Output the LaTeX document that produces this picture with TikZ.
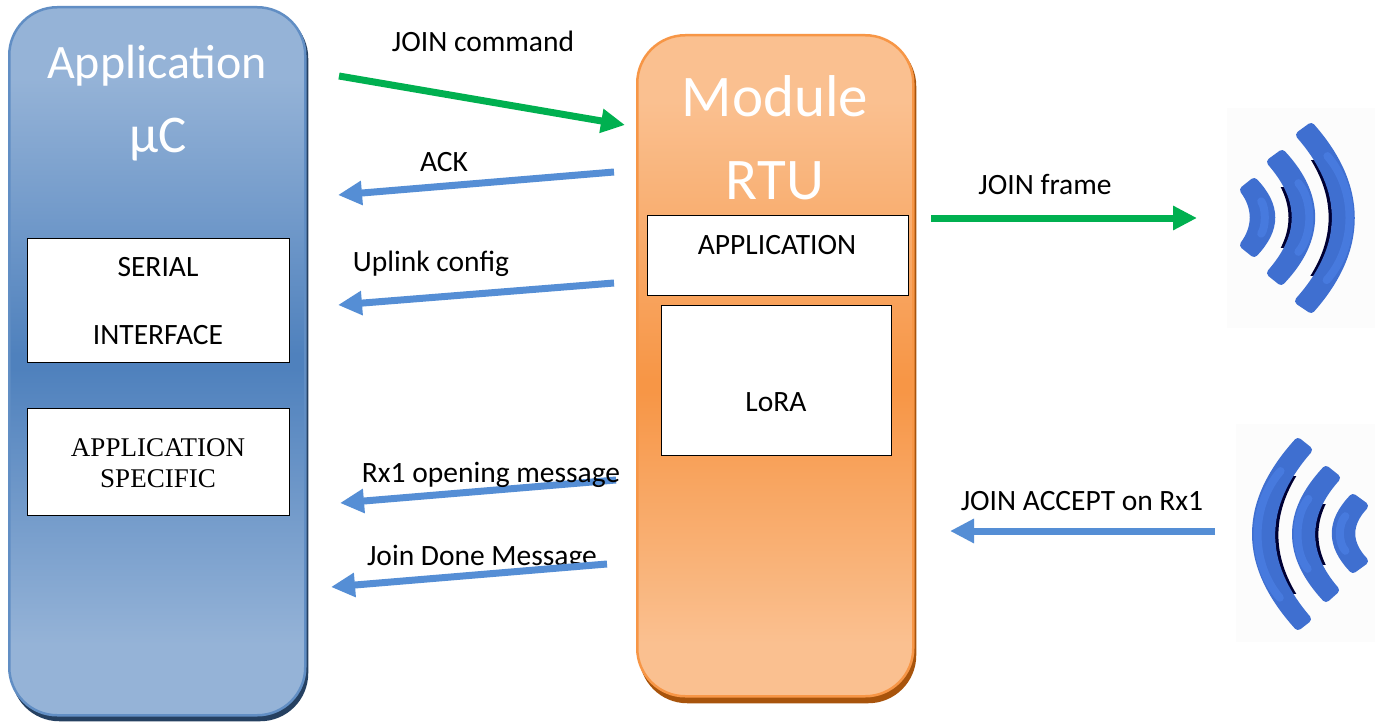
\documentclass[tikz,border=0pt]{standalone}
\usepackage{fontspec}
\setmainfont{Carlito}
\newfontfamily\timesf{Liberation Serif}
\usetikzlibrary{arrows.meta,positioning,calc}
\definecolor{blueA}{HTML}{95B3D7}
\definecolor{blueM}{HTML}{4F81BD}
\definecolor{blueS}{HTML}{254061}
\definecolor{orA}{HTML}{FAC090}
\definecolor{orM}{HTML}{F79646}
\definecolor{orS}{HTML}{A8540C}
\definecolor{arrowblue}{HTML}{558ED5}
\definecolor{arrowgreen}{HTML}{00B050}
\definecolor{icon}{HTML}{3F6FD0}
\definecolor{iconlight}{HTML}{5288F0}
\pgfdeclareverticalshading{blueshade}{100bp}{color(0bp)=(blueA); color(30bp)=(blueA); color(49.5bp)=(blueM); color(50.5bp)=(blueM); color(70bp)=(blueA); color(100bp)=(blueA)}
\pgfdeclareverticalshading{orshade}{100bp}{color(0bp)=(orA); color(29bp)=(orA); color(48bp)=(orM); color(49bp)=(orM); color(70bp)=(orA); color(100bp)=(orA)}
\tikzset{
  x=1pt,y=-1pt,
  panel/.style={rectangle,rounded corners=48pt,inner sep=0pt,line width=2.5pt,anchor=north west},
  whitebox/.style={rectangle,draw=black,line width=1.4pt,fill=white,inner sep=0pt,anchor=north west},
  lbl/.style={font=\fontsize{29.5}{33}\selectfont,text=black,inner sep=0pt,anchor=base},
  big/.style={font=\fontsize{48}{54}\selectfont,text=white,inner sep=0pt,anchor=base},
  bigger/.style={font=\fontsize{59}{64}\selectfont,text=white,inner sep=0pt,anchor=base},
  flowblue/.style={draw=arrowblue,line width=7pt,-{Triangle[length=24pt,width=23pt]}},
  flowgreen/.style={draw=arrowgreen,line width=7pt,-{Triangle[length=24pt,width=23pt]}},
  waveband/.style={draw=icon,fill=icon,line width=8pt,line join=round},
  waveglow/.style={draw=iconlight,line width=8pt,line cap=round,opacity=.45,shorten <=28pt,shorten >=28pt},
  waveedge/.style={draw=black!80!blue,line width=3.5pt},
}
% band between an outer and an inner curve; #9 = x shift pointing into the concave side
\newcommand\wavearc[9]{%
  \begin{scope}
    \clip ($(#5)+(-100,26)$) rectangle ($(#8)+(100,-26)$);
    \draw[waveedge,xshift=#9*5.5pt] (#5) .. controls (#6) and (#7) .. (#8);
  \end{scope}
  \draw[waveband] (#1) .. controls (#2) and (#3) .. (#4) -- (#8) .. controls (#7) and (#6) .. (#5) -- cycle;
  \draw[waveglow,xshift=-#9*9pt] (#5) .. controls (#6) and (#7) .. (#8);
}
\newcommand\smallwave[9]{%
  \draw[waveband] (#1) .. controls (#2) and (#3) .. (#4) -- (#8) .. controls (#7) and (#6) .. (#5) -- cycle;
  \draw[waveglow,shorten <=14pt,shorten >=14pt,xshift=-#9*9pt] (#5) .. controls (#6) and (#7) .. (#8);
}
\begin{document}
\begin{tikzpicture}
\useasboundingbox (0,0) rectangle (1375,722);
\fill[white] (0,0) rectangle (1375,722);
% left panel
\node[panel,fill=blueS,minimum width=297pt,minimum height=711pt] (appshadow) at (10,9) {};
\node[panel,draw=blueM!90!white,shading=blueshade,minimum width=296pt,minimum height=708pt] (app) at (8,6) {};
% right panel
\node[panel,fill=orS,minimum width=277pt,minimum height=665pt] (modshadow) at (638,37) {};
\node[panel,draw=orM,shading=orshade,minimum width=276pt,minimum height=661pt] (mod) at (636,34) {};
% titles
\node[big] (t1) at (157,79) {Application};
\node[big,font=\fontsize{53}{58}\selectfont] (t2) at (158,153) {µC};
\node[bigger] (t3) at (775,117) {Module};
\node[bigger] (t4) at (775,200) {RTU};
% white boxes
\node[whitebox,minimum width=262pt,minimum height=124pt] (serial) at (27,238) {};
\node[whitebox,minimum width=262pt,minimum height=107pt] (spec) at (27,408) {};
\node[whitebox,minimum width=261pt,minimum height=80pt] (appl) at (647,215) {};
\node[whitebox,minimum width=230pt,minimum height=150pt] (lora) at (661,305) {};
\node[lbl] (s1) at (158,276) {SERIAL};
\node[lbl] (s2) at (158,344) {INTERFACE};
\node[lbl,font=\timesf\fontsize{27}{30}\selectfont] (s3) at (158,456) {APPLICATION};
\node[lbl,font=\timesf\fontsize{27}{30}\selectfont] (s4) at (158,487) {SPECIFIC};
\node[lbl] (s5) at (777,254) {APPLICATION};
\node[lbl] (s6) at (776,411) {LoRA};
% labels
\node[lbl] (l1) at (483,52) {JOIN command};
\node[lbl] (l2) at (444,172) {ACK};
\node[lbl] (l3) at (431,271) {Uplink config};
\node[lbl] (l5) at (482,565) {Join Done Message};
\node[lbl] (l6) at (1045,194) {JOIN frame};
\node[lbl] (l7) at (1082,510) {JOIN ACCEPT on Rx1};
% connector ends
\coordinate (a1s) at (339,76);   \coordinate (a1e) at (625,125);
\coordinate (a2s) at (614,172);  \coordinate (a2e) at (338,195);
\coordinate (a3s) at (614,283);  \coordinate (a3e) at (338,305);
\coordinate (a4s) at (616,480);  \coordinate (a4e) at (340,503);
\coordinate (a5s) at (607,564);  \coordinate (a5e) at (331,587);
\coordinate (a6s) at (931,218);  \coordinate (a6e) at (1197,218);
\coordinate (a7s) at (1215,531); \coordinate (a7e) at (950,531);
\draw[flowgreen] (a1s) -- (a1e);
\draw[flowblue] (a2s) -- (a2e);
\draw[flowblue] (a3s) -- (a3e);
\draw[flowblue] (a4s) -- (a4e);
\draw[flowblue] (a5s) -- (a5e);
\draw[flowgreen] (a6s) -- (a6e);
\draw[flowblue] (a7s) -- (a7e);
\node[lbl] (l4) at (491,482) {Rx1 opening message};
% top icon
\fill[black!1] (1227,108) rectangle (1375,328);
\wavearc{1311,127}{1364,187}{1364,249}{1311,309}{1300,135}{1348,190}{1348,246}{1299,301}{-1}
\wavearc{1282,154}{1321,196}{1321,239}{1281,281}{1271,162}{1304,200}{1304,235}{1271,273}{-1}
\smallwave{1254,182}{1277,206}{1277,229}{1254,253}{1244,190}{1257,208}{1257,227}{1244,245}{-1}
% bottom icon
\fill[black!1] (1236,424) rectangle (1375,642);
\wavearc{1298,442}{1242,504}{1242,564}{1298,626}{1308,450}{1259,506}{1259,563}{1307,619}{1}
\wavearc{1326,470}{1286,513}{1286,555}{1326,598}{1336,478}{1303,515}{1303,553}{1335,590}{1}
\smallwave{1353,498}{1330,522}{1330,545}{1353,569}{1364,506}{1347,524}{1347,543}{1364,561}{1}
\end{tikzpicture}
\end{document}
